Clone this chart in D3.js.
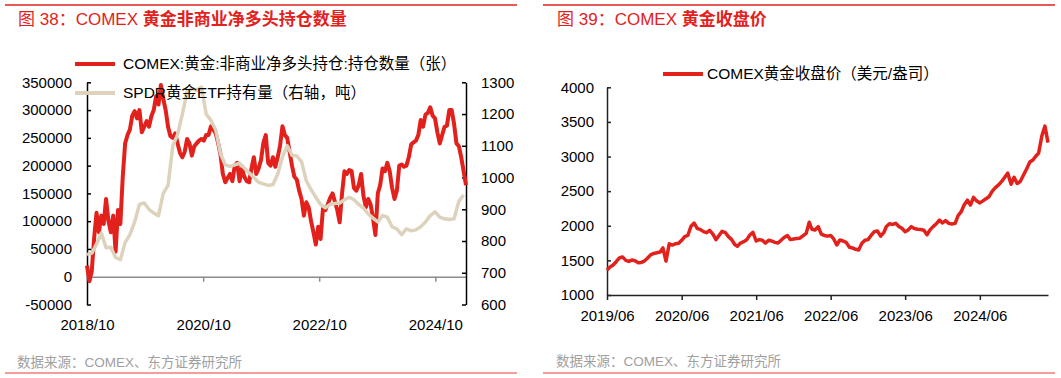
<!DOCTYPE html>
<html>
<head>
<meta charset="utf-8">
<script src="https://cdn.jsdelivr.net/npm/d3@7"></script>
<style>
  body { margin: 0; background: #fff; }
  svg text { font-family: "Liberation Sans", Arial, "Noto Sans CJK SC", sans-serif; }
</style>
</head>
<body>
<svg id="chart" width="1061" height="378"></svg>
<script>
// COMEX gold non-commercial net long, contracts, every 15 days from 2018/10/01
const netLong = [
	20, -8, 10, 70, 115, 80, 110, 95, 140, 100,
	80, 110, 45, 120, 95, 180, 240, 255, 265, 290,
	298, 285, 300, 260, 270, 280, 270, 289, 300, 325,
	310, 345, 320, 300, 270, 253, 250, 258, 240, 223,
	215, 225, 248, 240, 218, 235, 240, 245, 248, 245,
	255, 255, 271, 265, 258, 241, 220, 185, 170, 178,
	185, 172, 200, 205, 172, 195, 180, 172, 170, 195,
	215, 185, 195, 210, 241, 255, 205, 200, 215, 198,
	215, 236, 271, 255, 250, 225, 200, 180, 175, 155,
	140, 110, 134, 125, 100, 80, 58, 90, 68, 123,
	120, 130, 142, 150, 135, 120, 98, 150, 190, 185,
	192, 190, 160, 155, 165, 185, 145, 125, 140, 130,
	105, 75, 150, 165, 195, 190, 205, 190, 160, 140,
	155, 200, 202, 198, 200, 215, 238, 242, 245, 255,
	282, 270, 292, 295, 305, 290, 285, 260, 240, 255,
	270, 272, 300, 300, 275, 240, 235, 215, 190, 165
].map(v => v * 1000);

// SPDR gold ETF holdings, tonnes, every 30 days from 2018/10/01
const spdrHoldings = [
	757, 762, 790, 825, 779, 780, 748, 741, 795, 820,
	860, 915, 920, 900, 888, 880, 950, 975, 1100, 1135,
	1200, 1270, 1280, 1275, 1285, 1200, 1180, 1150, 1075, 1040,
	1035, 1040, 1045, 1030, 1015, 1000, 985, 980, 975, 978,
	1010, 1065, 1100, 1070, 1068, 1050, 990, 962, 938, 915,
	905, 915, 918, 920, 930, 938, 930, 915, 904, 885,
	872, 860, 880, 875, 845, 838, 820, 838, 832, 835,
	845, 860, 880, 892, 875, 870, 868, 870, 925, 945
];

// COMEX gold close, USD/oz, 1st and 16th of each month from 2019/06
const goldClose = [
	1361, 1405, 1433, 1481, 1535, 1550, 1500, 1485, 1506, 1495,
	1467, 1470, 1490, 1530, 1580, 1600, 1610, 1620, 1680, 1490,
	1740, 1722, 1740, 1746, 1790, 1843, 1860, 1990, 2040, 1963,
	1945, 1915, 1900, 1935, 1880, 1800, 1860, 1920, 1900, 1843,
	1800, 1730, 1705, 1750, 1770, 1800, 1867, 1905, 1780, 1800,
	1790, 1750, 1790, 1780, 1760, 1750, 1790, 1830, 1860, 1800,
	1810, 1815, 1820, 1855, 1890, 2050, 1950, 1939, 1987, 1880,
	1860, 1850, 1860, 1810, 1722, 1794, 1780, 1760, 1690, 1680,
	1660, 1650, 1746, 1790, 1800, 1860, 1915, 1925, 1850, 1900,
	1990, 2030, 2020, 2035, 1990, 1963, 1915, 1940, 1987, 1960,
	1950, 1945, 1935, 1870, 1940, 1987, 2030, 2083, 2040, 2075,
	2035, 2026, 2035, 2150, 2200, 2300, 2370, 2300, 2410, 2360,
	2330, 2360, 2390, 2420, 2500, 2550, 2590, 2640, 2700, 2760,
	2600, 2700, 2610, 2640, 2733, 2820, 2920, 2950, 3000, 3050,
	3300, 3440, 3200
];

const leftTicks = [-50000, 0, 50000, 100000, 150000, 200000, 250000, 300000, 350000];
const rightTicks = [600, 700, 800, 900, 1000, 1100, 1200, 1300];
const leftDateTicks = ['2018/10', '2020/10', '2022/10', '2024/10'];
const goldTicks = [1000, 1500, 2000, 2500, 3000, 3500, 4000];
const goldDateTicks = ['2019/06', '2020/06', '2021/06', '2022/06', '2023/06', '2024/06'];

const titles = ['图 38：COMEX ', '黄金非商业净多头持仓数量', '图 39：COMEX ', '黄金收盘价'];
const legendNames = ['COMEX:黄金:非商业净多头持仓:持仓数量（张）', 'SPDR黄金ETF持有量（右轴，吨）', 'COMEX黄金收盘价（美元/盎司）'];
const sourceText = '数据来源：COMEX、东方证券研究所';

const colors = { red: '#e3211c', beige: '#ddd3bd', title: '#e3211c', rule: '#e3211c', ruleLight: '#f07c78', grey: '#8c8c8c', source: '#a0a0a0' };

const parseYM = d3.timeParse('%Y/%m');
const fmtYM = d3.timeFormat('%Y/%m');

const svg = d3.select('#chart');

// legend label: full-width brackets set in the CJK face so they keep their width
function legendText(sel, name) {
	name.split(/([（），])/).filter(s => s).forEach(s => {
		const ts = sel.append('tspan').text(s);
		if (/[（），]/.test(s)) ts.attr('font-family', '"Noto Sans CJK SC"');
	});
}

// ---------- frame: rules, titles, sources ----------
const panels = [
	{ x1: 5, x2: 517, tx: 18, title: [titles[0], titles[1]], sy: 367 },
	{ x1: 543, x2: 1055, tx: 557, title: [titles[2], titles[3]], sy: 366 }
];
panels.forEach(p => {
	svg.append('line').attr('x1', p.x1).attr('x2', p.x2).attr('y1', 5).attr('y2', 5)
		.attr('stroke', colors.rule).attr('stroke-width', 1.5);
	svg.append('line').attr('x1', p.x1).attr('x2', p.x2).attr('y1', 373).attr('y2', 373)
		.attr('stroke', colors.ruleLight).attr('stroke-width', 1.5);
	const t = svg.append('text').attr('x', p.tx).attr('y', 25)
		.attr('fill', colors.title).attr('font-size', 17);
	t.append('tspan').text(p.title[0]);
	t.append('tspan').attr('font-weight', 'bold').text(p.title[1]);
	svg.append('text').attr('x', p.tx - 1).attr('y', p.sy)
		.attr('fill', colors.source).attr('font-size', 13.5).text(sourceText);
});

// ---------- left chart ----------
const netDates = netLong.map((d, i) => d3.timeDay.offset(new Date(2018, 9, 1), i * 15));
const spdrDates = spdrHoldings.map((d, i) => d3.timeDay.offset(new Date(2018, 9, 1), i * 30));

const xL = d3.scaleTime().domain([netDates[0], netDates[netDates.length - 1]]).range([87, 466]);
const yL = d3.scaleLinear().domain([-50000, 350000]).range([304.5, 82.3]);
const yR = d3.scaleLinear().domain([600, 1300]).range([304.5, 82.3]);

const left = svg.append('g');

// zero line with date ticks
const zeroAxis = left.append('g').attr('transform', `translate(0,${yL(0)})`)
	.call(d3.axisBottom(xL).tickValues(leftDateTicks.map(parseYM)).tickSize(5).tickSizeOuter(0).tickFormat(''));
zeroAxis.selectAll('path, line').attr('stroke', colors.grey).attr('stroke-width', 1.5);

// date labels at the bottom
const dateAxis = left.append('g').attr('transform', `translate(0,${yL(-50000)})`)
	.call(d3.axisBottom(xL).tickValues(leftDateTicks.map(parseYM)).tickSize(0).tickPadding(15).tickFormat(fmtYM));
dateAxis.select('.domain').remove();
dateAxis.selectAll('text').attr('font-size', 15).attr('fill', '#000')
	.attr('font-family', '"Liberation Sans", Arial, sans-serif');

const yAxisL = left.append('g').attr('transform', 'translate(87,0)')
	.call(d3.axisLeft(yL).tickValues(leftTicks).tickSize(-4).tickSizeOuter(0).tickPadding(15).tickFormat(d => String(d)));
const yAxisR = left.append('g').attr('transform', 'translate(466,0)')
	.call(d3.axisRight(yR).tickValues(rightTicks).tickSize(-4).tickSizeOuter(0).tickPadding(15).tickFormat(d => String(d)));
[yAxisL, yAxisR].forEach(a => {
	a.selectAll('path, line').attr('stroke', '#000').attr('stroke-width', 1.5);
	a.selectAll('text').attr('font-size', 15).attr('fill', '#000')
		.attr('font-family', '"Liberation Sans", Arial, sans-serif');
});

const netLine = d3.line().x((d, i) => xL(netDates[i])).y(d => yL(d));
const spdrLine = d3.line().x((d, i) => xL(spdrDates[i])).y(d => yR(d));

left.append('path').datum(netLong)
	.attr('d', netLine).attr('fill', 'none')
	.attr('stroke', colors.red).attr('stroke-width', 4).attr('stroke-linejoin', 'round');
left.append('path').datum(spdrHoldings)
	.attr('d', spdrLine).attr('fill', 'none')
	.attr('stroke', colors.beige).attr('stroke-width', 3.5).attr('stroke-linejoin', 'round');

// legend
[[colors.red, 64, legendNames[0]], [colors.beige, 93, legendNames[1]]].forEach(([c, y, name]) => {
	left.append('line').attr('x1', 75).attr('x2', 115).attr('y1', y).attr('y2', y)
		.attr('stroke', c).attr('stroke-width', 4);
	left.append('text').attr('x', 123).attr('y', y).attr('dy', '0.35em')
		.attr('font-size', 15.5).attr('fill', '#000').call(legendText, name);
});

// ---------- right chart ----------
const goldDates = goldClose.map((d, i) => new Date(2019, 5 + Math.floor(i / 2), i % 2 ? 16 : 1));
const xG = d3.scaleTime().domain([goldDates[0], goldDates[goldDates.length - 1]]).range([607, 1048]);
const yG = d3.scaleLinear().domain([1000, 4000]).range([295, 87.3]);

const right = svg.append('g');

const xAxisG = right.append('g').attr('transform', `translate(0,${yG(1000)})`)
	.call(d3.axisBottom(xG).tickValues(goldDateTicks.map(parseYM)).tickSize(5).tickSizeOuter(0).tickPadding(10).tickFormat(fmtYM));
const yAxisG = right.append('g').attr('transform', 'translate(607,0)')
	.call(d3.axisLeft(yG).tickValues(goldTicks).tickSize(-4).tickSizeOuter(0).tickPadding(13).tickFormat(d => String(d)));
[xAxisG, yAxisG].forEach(a => {
	a.selectAll('path, line').attr('stroke', '#222').attr('stroke-width', 1.5);
	a.selectAll('text').attr('font-size', 15).attr('fill', '#000')
		.attr('font-family', '"Liberation Sans", Arial, sans-serif');
});

right.append('path').datum(goldClose)
	.attr('d', d3.line().x((d, i) => xG(goldDates[i])).y(d => yG(d)))
	.attr('fill', 'none').attr('stroke', colors.red).attr('stroke-width', 3.5).attr('stroke-linejoin', 'round');

right.append('line').attr('x1', 663).attr('x2', 703).attr('y1', 74).attr('y2', 74)
	.attr('stroke', colors.red).attr('stroke-width', 4);
right.append('text').attr('x', 707).attr('y', 74).attr('dy', '0.35em')
	.attr('font-size', 15.5).attr('fill', '#000').call(legendText, legendNames[2]);
</script>
</body>
</html>
